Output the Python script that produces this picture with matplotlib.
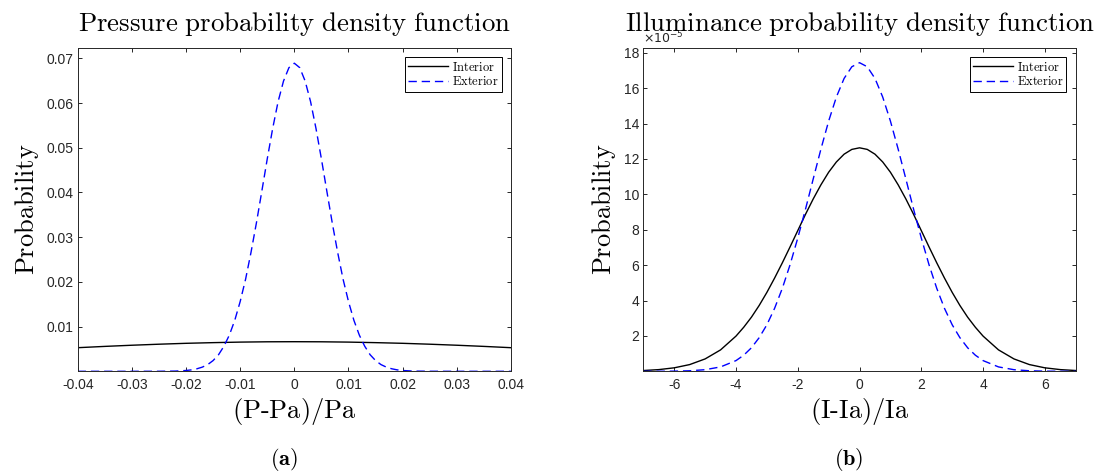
import numpy as np
import matplotlib
matplotlib.use('Agg')
import matplotlib.pyplot as plt

plt.rcParams['font.family'] = ['Liberation Sans', 'DejaVu Sans']
plt.rcParams['mathtext.fontset'] = 'cm'
plt.rcParams['axes.unicode_minus'] = False

# ---- data ----
# (a) pressure pdf
x_int_p = [-0.040, -0.035, -0.030, -0.025, -0.020, -0.015, -0.010, -0.005, 0.000,
           0.005, 0.010, 0.015, 0.020, 0.025, 0.030, 0.035, 0.040]
int_p = [0.00528, 0.00557, 0.00583, 0.00606, 0.00626, 0.00641, 0.00653, 0.00660, 0.00662,
         0.00660, 0.00653, 0.00641, 0.00626, 0.00606, 0.00583, 0.00557, 0.00528]

x_ext_p = [-0.040, -0.030, -0.025, -0.022, -0.020, -0.019, -0.018, -0.017, -0.016, -0.015,
           -0.014, -0.013, -0.012, -0.011, -0.010, -0.009, -0.008, -0.007, -0.006, -0.005,
           -0.004, -0.003, -0.002, -0.001, 0.000, 0.001, 0.002, 0.003, 0.004, 0.005,
           0.006, 0.007, 0.008, 0.009, 0.010, 0.011, 0.012, 0.013, 0.014, 0.015,
           0.016, 0.017, 0.018, 0.019, 0.020, 0.022, 0.025, 0.030, 0.040]
ext_p = [0.0, 0.0, 0.00001, 0.00005, 0.00018, 0.00032, 0.00056, 0.00093, 0.0015, 0.0024,
         0.0037, 0.0056, 0.0081, 0.0114, 0.0156, 0.0206, 0.0266, 0.0332, 0.0403, 0.0475,
         0.0543, 0.0603, 0.0649, 0.0679, 0.0689, 0.0679, 0.0649, 0.0603, 0.0543, 0.0475,
         0.0403, 0.0332, 0.0266, 0.0206, 0.0156, 0.0114, 0.0081, 0.0056, 0.0037, 0.0024,
         0.0015, 0.00093, 0.00056, 0.00032, 0.00018, 0.00005, 0.00001, 0.0, 0.0]

xticks_p = [-0.04, -0.03, -0.02, -0.01, 0, 0.01, 0.02, 0.03, 0.04]
xticklabels_p = ['-0.04', '-0.03', '-0.02', '-0.01', '0', '0.01', '0.02', '0.03', '0.04']
yticks_p = [0.01, 0.02, 0.03, 0.04, 0.05, 0.06, 0.07]
yticklabels_p = ['0.01', '0.02', '0.03', '0.04', '0.05', '0.06', '0.07']

# (b) illuminance pdf, values in units of 1e-5
x_i = [-7, -6.5, -6, -5.5, -5, -4.5, -4, -3.75, -3.5, -3.25, -3, -2.75, -2.5, -2.25,
       -2, -1.75, -1.5, -1.25, -1, -0.75, -0.5, -0.25, 0, 0.25, 0.5, 0.75, 1, 1.25,
       1.5, 1.75, 2, 2.25, 2.5, 2.75, 3, 3.25, 3.5, 3.75, 4, 4.5, 5, 5.5, 6, 6.5, 7]
int_i = [0.044, 0.096, 0.197, 0.38, 0.70, 1.21, 1.99, 2.49, 3.06, 3.72, 4.46, 5.27, 6.13, 7.03,
         7.95, 8.87, 9.74, 10.54, 11.25, 11.83, 12.27, 12.54, 12.63, 12.54, 12.27, 11.83, 11.25, 10.54,
         9.74, 8.87, 7.95, 7.03, 6.13, 5.27, 4.46, 3.72, 3.06, 2.49, 1.99, 1.21, 0.70, 0.38, 0.197, 0.096, 0.044]
ext_i = [0.0, 0.002, 0.009, 0.030, 0.091, 0.248, 0.605, 0.91, 1.33, 1.90, 2.63, 3.56, 4.69, 6.02,
         7.53, 9.16, 10.87, 12.56, 14.14, 15.50, 16.55, 17.21, 17.44, 17.21, 16.55, 15.50, 14.14, 12.56,
         10.87, 9.16, 7.53, 6.02, 4.69, 3.56, 2.63, 1.90, 1.33, 0.91, 0.605, 0.248, 0.091, 0.030, 0.009, 0.002, 0.0]

xticks_i = [-6, -4, -2, 0, 2, 4, 6]
xticklabels_i = ['-6', '-4', '-2', '0', '2', '4', '6']
yticks_i = [2, 4, 6, 8, 10, 12, 14, 16, 18]
yticklabels_i = ['2', '4', '6', '8', '10', '12', '14', '16', '18']

grey = '#262626'

fig = plt.figure(figsize=(10.96, 4.73), dpi=100)
ax1 = fig.add_axes([0.0709, 0.2150, 0.3953, 0.6835])
ax2 = fig.add_axes([0.5870, 0.2150, 0.3945, 0.6835])


def style_axes(ax):
    for s in ax.spines.values():
        s.set_color(grey)
        s.set_linewidth(0.7)
    ax.tick_params(direction='in', length=3, width=0.7, color=grey, labelcolor=grey,
                   labelsize=10, top=True, right=True)
    ax.tick_params(axis='x', pad=5)
    ax.tick_params(axis='y', pad=3)


ax1.plot(x_int_p, int_p, color='black', lw=1.0, label=r'$\mathrm{Interior}$')
ax1.plot(x_ext_p, ext_p, color='#0000ff', lw=1.0, dashes=(6, 3.5), label=r'$\mathrm{Exterior}$')
ax1.set_xlim(-0.04, 0.04)
ax1.set_ylim(0, 0.0723)
ax1.set_xticks(xticks_p, xticklabels_p)
ax1.set_yticks(yticks_p, yticklabels_p)
style_axes(ax1)
ax1.set_title(r'$\mathrm{Pressure\ probability\ density\ function}$', fontsize=19.3, y=1.0, pad=12)
ax1.set_xlabel(r'$\mathrm{(P\text{-}Pa)/Pa}$', fontsize=19, labelpad=3)
ax1.set_ylabel(r'$\mathrm{Probability}$', fontsize=19, labelpad=4)

ax2.plot(x_i, int_i, color='black', lw=1.0, label=r'$\mathrm{Interior}$')
ax2.plot(x_i, ext_i, color='#0000ff', lw=1.0, dashes=(6, 3.5), label=r'$\mathrm{Exterior}$')
ax2.set_xlim(-7, 7)
ax2.set_ylim(0, 18.27)
ax2.set_xticks(xticks_i, xticklabels_i)
ax2.set_yticks(yticks_i, yticklabels_i)
style_axes(ax2)
ax2.set_title(r'$\mathrm{Illuminance\ probability\ density\ function}$', fontsize=19.3, y=1.0, pad=12)
ax2.set_xlabel(r'$\mathrm{(I\text{-}Ia)/Ia}$', fontsize=19, labelpad=3)
ax2.set_ylabel(r'$\mathrm{Probability}$', fontsize=19, labelpad=4)
ax2.text(0.0, 1.004, r'$\times10^{-5}$', transform=ax2.transAxes, ha='left', va='bottom',
         fontsize=9, color=grey, math_fontfamily='dejavusans')

for ax in (ax1, ax2):
    leg = ax.legend(loc='upper right', fontsize=9, fancybox=False, edgecolor='black',
                    framealpha=1, borderaxespad=0.75, labelspacing=0.15, borderpad=0.25,
                    handlelength=3.2, handletextpad=0.3)
    leg.get_frame().set_linewidth(0.7)

fig.text(0.2587, 0.0275, r'$(\mathbf{a})$', ha='center', va='center', fontsize=16)
fig.text(0.7746, 0.0275, r'$(\mathbf{b})$', ha='center', va='center', fontsize=16)

fig.savefig('out.png', dpi=100)
